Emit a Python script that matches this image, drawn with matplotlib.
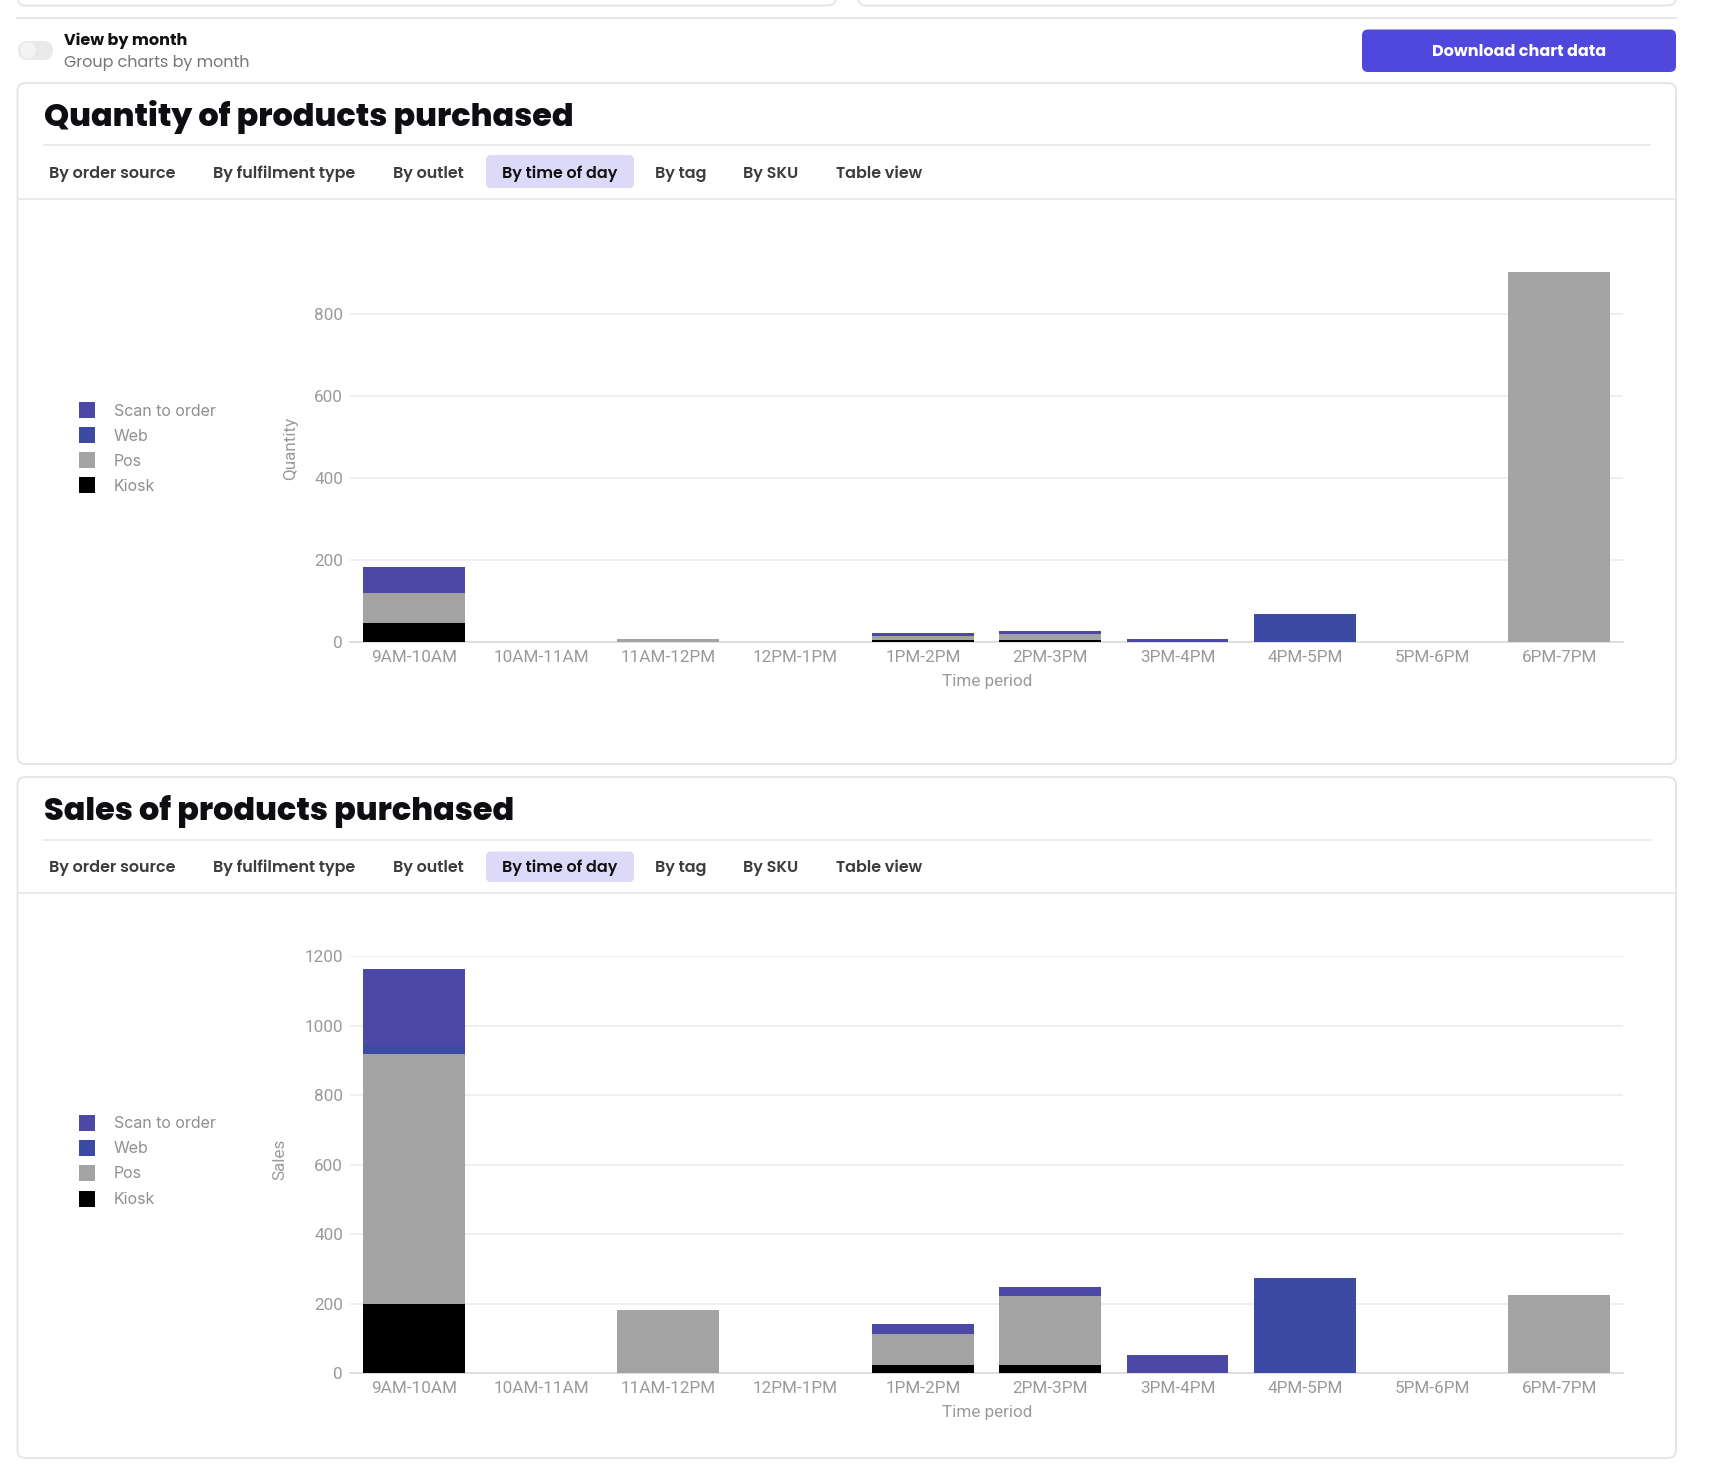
import matplotlib
matplotlib.use("Agg")
import matplotlib.pyplot as plt
from matplotlib.patches import FancyBboxPatch, Rectangle
import numpy as np

# ---------------- data ----------------
categories = ['9AM-10AM', '10AM-11AM', '11AM-12PM', '12PM-1PM', '1PM-2PM',
              '2PM-3PM', '3PM-4PM', '4PM-5PM', '5PM-6PM', '6PM-7PM']
series_names = ['Kiosk', 'Pos', 'Web', 'Scan to order']  # stack order bottom->top
series_colors = ['#000000', '#a3a3a3', '#3d4aa3', '#4b48a6']

qty_kiosk = [46, 0, 0, 0, 5, 5, 0, 0, 0, 0]
qty_pos = [74, 0, 7, 0, 10, 14, 0, 0, 0, 902]
qty_web = [0, 0, 0, 0, 0, 0, 0, 67, 0, 0]
qty_scan = [63, 0, 0, 0, 7, 7, 6, 0, 0, 0]

sales_kiosk = [200, 0, 0, 0, 24, 24, 0, 0, 0, 0]
sales_pos = [718, 0, 182, 0, 89, 198, 0, 0, 0, 225]
sales_web = [26, 0, 0, 0, 0, 0, 0, 274, 0, 0]
sales_scan = [221, 0, 0, 0, 29, 26, 53, 0, 0, 0]

qty_ticks = [0, 200, 400, 600, 800]
sales_ticks = [0, 200, 400, 600, 800, 1000, 1200]
tabs = ['By order source', 'By fulfilment type', 'By outlet', 'By time of day',
        'By tag', 'By SKU', 'Table view']
tab_x = [49, 213, 393, 502, 655, 743, 836]

W, H = 1714, 1470
fig = plt.figure(figsize=(W / 100, H / 100), dpi=100)
fig.patch.set_facecolor('white')

bg = fig.add_axes([0, 0, 1, 1])
bg.set_xlim(0, W)
bg.set_ylim(H, 0)
bg.axis('off')

BORDER = '#e2e2e2'
UI_FONT = ['Poppins', 'Inter', 'DejaVu Sans']
CH_FONT = ['Roboto', 'DejaVu Sans']
CH_SIZE = 12.3


def card(x0, y0, x1, y1):
    bg.add_patch(FancyBboxPatch((x0, y0), x1 - x0, y1 - y0,
                                boxstyle='round,pad=0,rounding_size=8',
                                facecolor='white', edgecolor=BORDER, lw=1.2))


# top card fragments
card(17.5, -40, 836, 5.5)
card(858, -40, 1676, 5.5)
bg.plot([17.5, 1676], [17.5, 17.5], color=BORDER, lw=1.2)

# toggle
bg.add_patch(FancyBboxPatch((18, 41), 35, 19, boxstyle='round,pad=0,rounding_size=9.5',
                            facecolor='#e9e9e9', edgecolor='none'))
bg.add_patch(plt.Circle((28, 50.5), 8, facecolor='#f4f4f4', edgecolor='none'))
bg.text(64.5, 41, 'View by month', fontsize=11.5, fontweight='bold', color='#111111',
        family=UI_FONT, va='center', ha='left')
bg.text(64.5, 63, 'Group charts by month', fontsize=11.5, color='#777777',
        family=UI_FONT, va='center', ha='left')

# button
bg.add_patch(FancyBboxPatch((1362, 29.5), 314, 42.5, boxstyle='round,pad=0,rounding_size=6',
                            facecolor='#5048dc', edgecolor='none'))
bg.text(1519, 51.5, 'Download chart data', fontsize=11.5, fontweight='bold', color='white',
        family=UI_FONT, va='center', ha='center')


def panel(y0, y1, title, title_y, sep_y, tab_y, box_y0, box_y1, line_y):
    card(17.5, y0, 1676, y1)
    bg.text(44, title_y + 2, title, fontsize=23, fontweight='heavy', color='#0d0d12',
            family=UI_FONT, va='center', ha='left')
    bg.plot([44, 1650], [sep_y, sep_y], color='#e6e6e6', lw=1.2)
    bg.add_patch(FancyBboxPatch((486, box_y0), 148, box_y1 - box_y0,
                                boxstyle='round,pad=0,rounding_size=5',
                                facecolor='#dcdaf8', edgecolor='none'))
    for t, x in zip(tabs, tab_x):
        col = '#111111' if t == 'By time of day' else '#3d3d3d'
        bg.text(x, tab_y + 2, t, fontsize=11.5, fontweight='semibold', color=col,
                family=UI_FONT, va='center', ha='left')
    bg.plot([18, 1675], [line_y, line_y], color='#e6e6e6', lw=1.2)


panel(83, 764, 'Quantity of products purchased', 115, 145, 171.6, 155, 188, 199)
panel(777, 1458, 'Sales of products purchased', 809, 839.5, 866, 851.5, 882, 893)


def legend(rows_y):
    # legend order top->bottom: reversed stack order
    for name, col, y in zip(series_names[::-1], series_colors[::-1], rows_y):
        bg.add_patch(Rectangle((79, y - 8), 16, 16, facecolor=col, edgecolor='none'))
        bg.text(114, y + 1, name, fontsize=11.5, color='#8f8f8f', family=['Inter', 'DejaVu Sans'],
                va='center', ha='left')


legend([410, 435, 460, 485])
legend([1122.6, 1147.8, 1173, 1199])


def chart(zero_y, ppu, ymax, ticks, data, ylabel, ylabel_x, ylabel_y, xlabel_y):
    left, right = 350, 1623
    top = zero_y - ymax * ppu
    ax = fig.add_axes([left / W, 1 - zero_y / H, (right - left) / W, (zero_y - top) / H])
    ax.set_facecolor('none')
    x = np.arange(len(categories))
    bottom = np.zeros(len(categories))
    for vals, col in zip(data, series_colors):
        v = np.array(vals, dtype=float)
        ax.bar(x, v, width=0.8, bottom=bottom, color=col, linewidth=0, zorder=3)
        bottom += v
    ax.set_xlim(-0.5, len(categories) - 0.5)
    ax.set_ylim(0, ymax)
    ax.set_yticks(ticks)
    ax.set_xticks(x)
    ax.set_xticklabels(categories)
    for s in ['top', 'right', 'left']:
        ax.spines[s].set_visible(False)
    ax.spines['bottom'].set_color('#dcdcdc')
    ax.spines['bottom'].set_linewidth(1.3)
    ax.grid(axis='y', color='#ececec', lw=1.2, zorder=0)
    ax.tick_params(axis='y', length=0, pad=5,
                   labelsize=CH_SIZE, labelcolor='#9a9a9a')
    ax.tick_params(axis='x', length=0, pad=6, labelsize=CH_SIZE, labelcolor='#9a9a9a')
    for lab in ax.get_xticklabels() + ax.get_yticklabels():
        lab.set_family(CH_FONT)
    bg.text(ylabel_x, ylabel_y, ylabel, rotation=90, fontsize=CH_SIZE, color='#9a9a9a',
            family=CH_FONT, va='center', ha='center')
    bg.text(987, xlabel_y, 'Time period', fontsize=CH_SIZE, color='#9a9a9a',
            family=CH_FONT, va='center', ha='center')
    return ax


chart(641.7, 0.4099, 905, qty_ticks, [qty_kiosk, qty_pos, qty_web, qty_scan],
      'Quantity', 291, 448, 681)
chart(1373, 0.3471, 1200, sales_ticks, [sales_kiosk, sales_pos, sales_web, sales_scan],
      'Sales', 280, 1159, 1412)

fig.savefig('out.png', dpi=100, facecolor='white')
